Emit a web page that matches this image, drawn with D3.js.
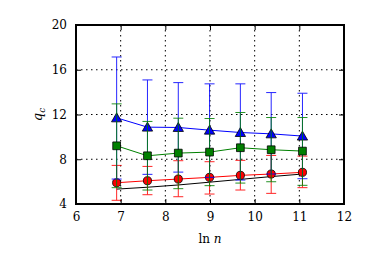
<!DOCTYPE html>
<html>
<head>
<meta charset="utf-8">
<script src="https://cdn.jsdelivr.net/npm/d3@7"></script>
<style>
  body { margin: 0; background: #fff; }
</style>
</head>
<body>
<div id="chart"></div>
<script>

// ln n for n = 1000 * 2^k
var lnN = [6.91, 7.60, 8.29, 8.99, 9.68, 10.37, 11.07];

var blueMean = [11.70, 10.87, 10.84, 10.60, 10.39, 10.27, 10.07];
var blueHi   = [17.14, 15.09, 14.85, 14.74, 14.74, 13.96, 13.90];
var blueLo   = [6.23, 6.65, 6.85, 6.38, 6.14, 6.68, 6.26];

var greenMean = [9.20, 8.31, 8.55, 8.64, 9.03, 8.85, 8.73];
var greenHi   = [12.95, 11.38, 11.67, 11.64, 12.18, 11.73, 11.73];
var greenLo   = [5.46, 5.25, 5.37, 5.64, 5.87, 5.99, 5.67];

var redMean = [5.90, 6.08, 6.23, 6.38, 6.56, 6.68, 6.83];
var redHi   = [7.45, 7.36, 7.87, 7.78, 7.90, 8.34, 8.28];
var redLo   = [4.33, 4.83, 4.65, 4.89, 5.25, 4.95, 5.46];

var blackMean = [5.33, 5.50, 5.70, 5.95, 6.20, 6.45, 6.68];

var xTicks = [6, 7, 8, 9, 10, 11, 12];
var yTicks = [4, 8, 12, 16, 20];

var serif = "'DejaVu Serif', serif";

var width = 382, height = 255;
var margin = {top: 25, right: 38, bottom: 51, left: 76},
    boundedWidth = width - margin.left - margin.right,
    boundedHeight = height - margin.top - margin.bottom;

var svg = d3.select("#chart").append("svg")
  .attr("width", width)
  .attr("height", height);

var xScale = d3.scaleLinear().domain([6, 12]).range([0, boundedWidth]);
var yScale = d3.scaleLinear().domain([4, 20]).range([boundedHeight, 0]);

var g = svg.append("g")
  .attr("transform", `translate(${margin.left},${margin.top})`);

// dotted grid
g.append("g").selectAll("line")
  .data(xTicks.slice(1, -1))
  .enter().append("line")
  .attr("x1", d => xScale(d)).attr("x2", d => xScale(d))
  .attr("y1", 0).attr("y2", boundedHeight)
  .attr("stroke", "#000").attr("stroke-width", 1)
  .attr("stroke-dasharray", "1.5,3.5");
g.append("g").selectAll("line")
  .data(yTicks.slice(1, -1))
  .enter().append("line")
  .attr("y1", d => yScale(d)).attr("y2", d => yScale(d))
  .attr("x1", 0).attr("x2", boundedWidth)
  .attr("stroke", "#000").attr("stroke-width", 1)
  .attr("stroke-dasharray", "1.5,3.5");

// series, drawn in order
var series = [
  {name: "black", color: "#000", mean: blackMean, hi: null, lo: null, marker: null},
  {name: "red", color: "#ff0000", mean: redMean, hi: redHi, lo: redLo, marker: "circle"},
  {name: "blue", color: "#0000ff", mean: blueMean, hi: blueHi, lo: blueLo, marker: "triangle"},
  {name: "green", color: "#008000", mean: greenMean, hi: greenHi, lo: greenLo, marker: "square"}
];

var lineGenerator = d3.line()
  .x(d => xScale(d.x))
  .y(d => yScale(d.y));

var symbolType = {
  circle: d3.symbolCircle,
  triangle: d3.symbolTriangle,
  square: d3.symbolSquare
};
var symbolSize = {circle: 52, triangle: 46, square: 60};

var capHalf = 5;

series.forEach(function(s) {
  var pts = lnN.map((x, i) => ({
    x: x, y: s.mean[i],
    hi: s.hi ? s.hi[i] : null,
    lo: s.lo ? s.lo[i] : null
  }));

  var sg = g.append("g").attr("class", "series " + s.name);

  if (s.hi) {
    var bars = sg.append("g").attr("class", "errorbars")
      .attr("stroke", s.color).attr("stroke-width", 1).attr("opacity", 0.85);
    bars.selectAll(".vbar").data(pts).enter().append("line")
      .attr("x1", d => xScale(d.x)).attr("x2", d => xScale(d.x))
      .attr("y1", d => yScale(d.hi)).attr("y2", d => yScale(d.lo));
    bars.selectAll(".capHi").data(pts).enter().append("line")
      .attr("x1", d => xScale(d.x) - capHalf).attr("x2", d => xScale(d.x) + capHalf)
      .attr("y1", d => yScale(d.hi)).attr("y2", d => yScale(d.hi));
    bars.selectAll(".capLo").data(pts).enter().append("line")
      .attr("x1", d => xScale(d.x) - capHalf).attr("x2", d => xScale(d.x) + capHalf)
      .attr("y1", d => yScale(d.lo)).attr("y2", d => yScale(d.lo));
  }

  sg.append("path")
    .attr("d", lineGenerator(pts))
    .attr("fill", "none")
    .attr("stroke", s.color)
    .attr("stroke-width", 1);

  if (s.marker) {
    sg.selectAll(".marker").data(pts).enter().append("path")
      .attr("d", d3.symbol().type(symbolType[s.marker]).size(symbolSize[s.marker]))
      .attr("transform", d => `translate(${xScale(d.x)},${yScale(d.y) + (s.marker == "triangle" ? 1 : 0)})`)
      .attr("fill", s.color)
      .attr("stroke", "#000")
      .attr("stroke-width", 0.8);
  }
});

// axes with inward ticks on all sides
var xAxis = d3.axisBottom(xScale).tickValues(xTicks).tickSize(-5).tickPadding(8).tickFormat(d3.format("d"));
var yAxis = d3.axisLeft(yScale).tickValues(yTicks).tickSize(-5).tickPadding(9).tickFormat(d3.format("d"));
var xAxisTop = d3.axisTop(xScale).tickValues(xTicks).tickSize(-5).tickFormat("");
var yAxisRight = d3.axisRight(yScale).tickValues(yTicks).tickSize(-5).tickFormat("");

[
  g.append("g").attr("transform", `translate(0,${boundedHeight})`).call(xAxis),
  g.append("g").call(yAxis),
  g.append("g").call(xAxisTop),
  g.append("g").attr("transform", `translate(${boundedWidth},0)`).call(yAxisRight)
].forEach(function(ax) {
  ax.attr("font-family", serif).attr("font-size", 12);
  ax.select(".domain").remove();
  ax.selectAll(".tick line").attr("stroke", "#000").attr("stroke-width", 1);
  ax.selectAll(".tick text").attr("fill", "#000");
});

// frame
g.append("rect")
  .attr("x", 0).attr("y", 0)
  .attr("width", boundedWidth).attr("height", boundedHeight)
  .attr("fill", "none")
  .attr("stroke", "#000")
  .attr("stroke-width", 2);

// axis labels
svg.append("text")
  .attr("x", margin.left + boundedWidth / 2)
  .attr("y", 243)
  .attr("text-anchor", "middle")
  .attr("font-family", serif)
  .attr("font-size", 12)
  .html("ln <tspan font-style='italic'>n</tspan>");

svg.append("text")
  .attr("transform", `translate(42,${margin.top + boundedHeight / 2}) rotate(-90)`)
  .attr("text-anchor", "middle")
  .attr("font-family", serif)
  .attr("font-size", 13)
  .html("<tspan font-style='italic'>q</tspan><tspan font-style='italic' font-size='9' dy='3'>c</tspan>");

</script>
</body>
</html>
